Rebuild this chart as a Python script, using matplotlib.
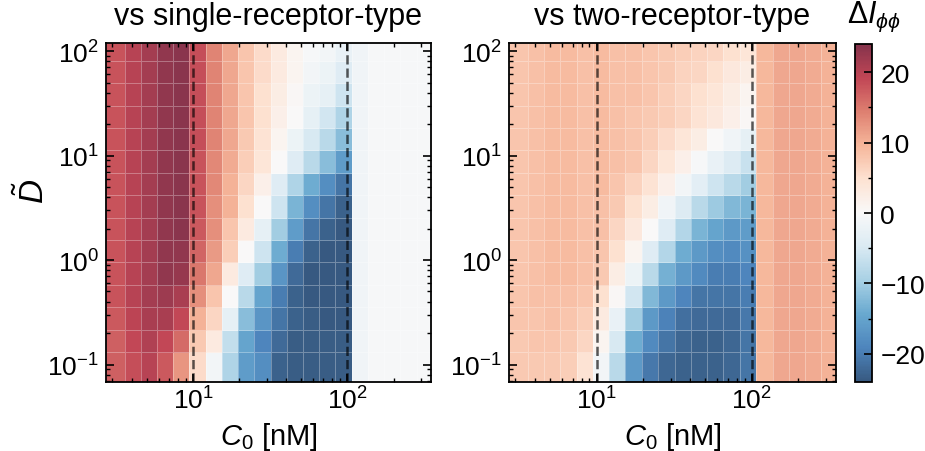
import numpy as np
import matplotlib.pyplot as plt
from matplotlib.colors import ListedColormap
from matplotlib.ticker import MultipleLocator

plt.rcParams['font.family'] = ['Liberation Sans', 'DejaVu Sans']
plt.rcParams['mathtext.fontset'] = 'custom'
plt.rcParams['mathtext.rm'] = 'Liberation Sans'
plt.rcParams['mathtext.it'] = 'Liberation Sans:italic'
plt.rcParams['mathtext.bf'] = 'Liberation Sans:bold'
plt.rcParams['axes.linewidth'] = 1.3

# grid: concentration C0 [nM] (columns) and diffusion D~ (rows)
c0_vals = [3.16, 4.03, 5.13, 6.54, 8.34, 10.6, 13.5, 17.2, 22.0, 28.0,
           35.7, 45.4, 57.9, 73.8, 94.0, 120, 153, 194, 248, 316]
d_vals = [0.1, 0.164, 0.268, 0.439, 0.720, 1.18, 1.93, 3.16,
          5.18, 8.48, 13.9, 22.8, 37.3, 61.1, 100]

# Delta I_phiphi vs single-receptor-type, rows from D=100 (top) down to D=0.1
dI_single = [
    [18, 20, 21.5, 23, 23.5, 18.5, 14, 11, 8, 5.5, 3, 1, -0.5, -1, -2.5, -1.5, -0.5, -0.5, -0.5, -0.5],
    [18, 20, 21.5, 23, 23.5, 18.5, 14, 11, 8, 5.5, 3, 1, -1, -2, -4, -1.5, -0.5, -0.5, -0.5, -0.5],
    [18, 20, 21.5, 23, 23.5, 18.5, 14, 11, 8, 5, 2.5, 0.5, -2, -3, -6, -1.5, -0.5, -0.5, -0.5, -0.5],
    [18, 20, 21.5, 23, 23.5, 18.5, 14, 11, 8, 5, 2, 0, -3, -5.5, -9, -1.5, -0.5, -0.5, -0.5, -0.5],
    [18, 20, 21.5, 23, 23.5, 18.5, 14, 11, 7.5, 4.5, 1, -2, -5, -8, -12, -1.5, -0.5, -0.5, -0.5, -0.5],
    [18, 20, 21.5, 23, 23.5, 18, 13.5, 10.5, 7, 4, 0, -4, -8, -12, -16, -1.5, -0.5, -0.5, -0.5, -0.5],
    [18, 20, 21.5, 23, 23.5, 18, 13.5, 10, 6, 2, -4, -9, -14, -18, -21, -1.5, -0.5, -0.5, -0.5, -0.5],
    [18, 20, 21.5, 23, 23.5, 18, 13, 10, 5, 0, -6, -13, -18, -21, -23, -1.5, -0.5, -0.5, -0.5, -0.5],
    [18, 20, 21.5, 23, 23.5, 17.5, 13, 8, 3, -3, -10, -16, -21, -23, -24, -1.5, -0.5, -0.5, -0.5, -0.5],
    [18, 20, 21.5, 23, 23, 16.5, 12, 7, 0, -6, -14, -20, -23, -24, -24, -1.5, -0.5, -0.5, -0.5, -0.5],
    [18, 20, 21.5, 23, 22.5, 15, 11, 3, -4, -10, -17, -22, -24, -24, -24, -1.5, -0.5, -0.5, -0.5, -0.5],
    [18, 20, 21.5, 22, 21, 13, 8, 0, -8, -15, -20, -23, -24, -24, -24, -1.5, -0.5, -0.5, -0.5, -0.5],
    [17.5, 19.5, 21, 21, 19, 10, 6, -3, -12, -17, -21, -23, -23.5, -24, -24, -1.5, -0.5, -0.5, -0.5, -0.5],
    [17, 19, 20.5, 19, 16, 7.5, 3, -7, -15, -19, -22, -23.5, -23.5, -23.5, -23.5, -1.5, -0.5, -0.5, -0.5, -0.5],
    [17, 18.5, 20, 17.5, 12.5, 5.5, -1, -9, -16, -18, -23, -23.5, -23.5, -23.5, -23.5, -1.5, -0.5, -0.5, -0.5, -0.5],
]

# Delta I_phiphi vs two-receptor-type, same row order
dI_two = [
    [8, 8.5, 9, 9, 8.5, 9, 8.5, 8.5, 8, 7.5, 7, 6.5, 6, 5, 4, 9.5, 11, 11, 10.5, 10],
    [8, 8.5, 9, 9, 8.5, 9, 8.5, 8.5, 8, 7.5, 6.5, 6, 5, 3.5, 2.5, 9.5, 11, 11, 10.5, 10],
    [8, 8.5, 9, 9, 8.5, 9, 8.5, 8.5, 8, 7, 6, 5, 4, 2.5, 1, 9.5, 11, 11, 10.5, 10],
    [8, 8.5, 9, 9, 8.5, 9, 8.5, 8, 7.5, 7, 6, 4.5, 3.5, 2, 0.5, 9.5, 11, 11, 10.5, 10],
    [8, 8.5, 9, 9, 8.5, 9, 8.5, 8, 7, 5.5, 4, 2.5, 0, -1.5, -3, 9.5, 11, 11, 10.5, 10],
    [8, 8.5, 9, 9, 8.5, 9, 8.5, 8, 6, 4, 2, -0.5, -2.5, -4.5, -6.5, 9.5, 11, 11, 10.5, 10],
    [8, 8.5, 9, 9, 8.5, 9, 8, 6.5, 4.5, 2, -1, -3.5, -6, -8, -10, 9.5, 11, 11, 10.5, 10],
    [8, 8.5, 9, 9, 8.5, 8.5, 7.5, 5, 2.5, -1.5, -4.5, -8, -10.5, -12.5, -13, 9.5, 11, 11, 10.5, 10],
    [8, 8.5, 9, 9, 8.5, 8.5, 6, 3.5, 0, -4, -8.5, -13, -15, -16.5, -16, 9.5, 11, 11, 10.5, 10],
    [8, 8.5, 9, 9, 8.5, 8, 5, 1, -4, -8.5, -14, -16.5, -18, -18.5, -17.5, 9.5, 11, 11, 10.5, 10],
    [8, 8.5, 9, 9, 8.5, 7.5, 2.5, -2, -8, -13.5, -16.5, -18.5, -20, -20, -19, 9.5, 11, 11, 10.5, 10],
    [8, 8.5, 8.5, 8.5, 8, 5, 0.5, -5.5, -12.5, -16.5, -19, -21, -21, -21, -20, 9.5, 11, 11, 10.5, 10],
    [8, 8, 8.5, 8, 7, 3, -2.5, -10, -16.5, -19.5, -21.5, -22, -22, -22, -20.5, 9.5, 11, 11, 10.5, 10],
    [7.5, 8, 8, 7.5, 6, 1, -5, -14, -18.5, -21, -22.5, -23, -23, -22.5, -21, 9.5, 11, 11, 10.5, 10],
    [7.5, 7.5, 7.5, 7, 4.5, -1, -8, -16.5, -20.5, -22.5, -23, -23, -23, -22.5, -21, 9.5, 11, 11, 10.5, 10],
]

titles = ['vs single-receptor-type', 'vs two-receptor-type']
c0_marks = [10, 100]

# faded RdBu_r (looks like alpha 0.8 over white)
base = plt.get_cmap('RdBu_r')(np.linspace(0, 1, 256))
base[:, :3] = 0.8 * base[:, :3] + 0.2
cmap = ListedColormap(base)

fig = plt.figure(figsize=(9.25, 4.52), dpi=100)
W, H = 925, 452
ax1 = fig.add_axes([106 / W, 69 / H, 325 / W, 339 / H])
ax2 = fig.add_axes([509 / W, 69 / H, 327 / W, 339 / H])
cax = fig.add_axes([855 / W, 69 / H, 17 / W, 338 / H])

for ax, data, title in zip([ax1, ax2], [dI_single, dI_two], titles):
    z = np.array(data)[::-1]
    mesh = ax.pcolormesh(c0_vals, d_vals, z, shading='nearest', cmap=cmap,
                         vmin=-24, vmax=24, edgecolors=(1, 1, 1, 0.3), linewidth=0.5)
    ax.set_xscale('log')
    ax.set_yscale('log')
    for c in c0_marks:
        ax.axvline(c, color='k', ls='--', lw=1.8, alpha=0.65)
    ax.set_title(title, fontsize=22, pad=14)
    ax.set_xlabel(r'$C_0$ [nM]', fontsize=21)
    ax.xaxis.set_label_coords(0.5, -0.112)
    ax.tick_params(which='both', direction='in', top=True, right=True, labelsize=19)
    ax.tick_params(which='major', length=6, width=1.2)
    ax.tick_params(which='minor', length=3, width=1)
    ax.tick_params(axis='x', which='major', pad=3)
    ax.tick_params(axis='y', which='major', pad=5)

ax1.set_ylabel(r'$\tilde{D}$', fontsize=24)
ax1.yaxis.set_label_coords(-0.17, 0.565)

cb = fig.colorbar(mesh, cax=cax)
cb.set_ticks([-20, -10, 0, 10, 20])
cb.ax.yaxis.set_minor_locator(MultipleLocator(5))
cb.ax.tick_params(which='both', direction='in', labelsize=19)
cb.ax.tick_params(which='major', length=6, width=1.2, pad=6)
cb.ax.tick_params(which='minor', length=3, width=1)
cb.outline.set_linewidth(1.3)
fig.text(874 / W, 1 - 23 / H, r'$\Delta I_{\phi\phi}$', fontsize=22, ha='center', va='baseline')

fig.savefig('out.png', dpi=100)
